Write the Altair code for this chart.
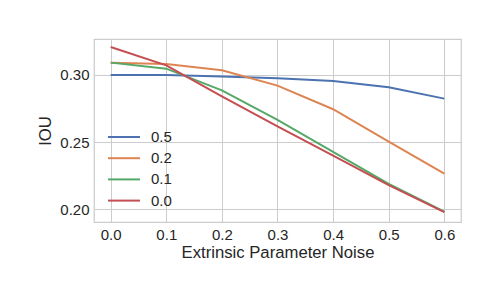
import altair as alt
import pandas as pd

noise = [0.0, 0.1, 0.2, 0.3, 0.4, 0.5, 0.6]
series_names = ["0.5", "0.2", "0.1", "0.0"]
iou_05 = [0.3000, 0.3000, 0.2988, 0.2975, 0.2955, 0.2908, 0.2824]
iou_02 = [0.3092, 0.3082, 0.3035, 0.2921, 0.2745, 0.2504, 0.2266]
iou_01 = [0.3092, 0.3047, 0.2886, 0.2665, 0.2427, 0.2189, 0.1983]
iou_00 = [0.3208, 0.3072, 0.2841, 0.2618, 0.2400, 0.2179, 0.1978]
colors = ["#4c72b0", "#dd8452", "#55a868", "#c44e52"]
x_ticks = [0.0, 0.1, 0.2, 0.3, 0.4, 0.5, 0.6]
y_ticks = [0.20, 0.25, 0.30]

rows = []
for i, (name, vals) in enumerate(zip(series_names, [iou_05, iou_02, iou_01, iou_00])):
    for x, v in zip(noise, vals):
        rows.append({"noise": x, "iou": v, "series": name, "ord": i})
df = pd.DataFrame(rows)

font = "Liberation Sans"
text_color = "#262626"

chart = alt.Chart(df).mark_line(strokeWidth=2).encode(
    x=alt.X("noise:Q",
            scale=alt.Scale(domain=[-0.03, 0.63], nice=False, zero=False),
            axis=alt.Axis(values=x_ticks, format=".1f", title="Extrinsic Parameter Noise",
                          titleY=35, titleBaseline="alphabetic")),
    y=alt.Y("iou:Q",
            scale=alt.Scale(domain=[0.1905, 0.3268], nice=False, zero=False),
            axis=alt.Axis(values=y_ticks, format=".2f", title="IOU",
                          titleX=-49, titleY=91.5, titleAngle=270,
                          titleBaseline="middle", titleAlign="center")),
    color=alt.Color("series:N",
                    scale=alt.Scale(domain=series_names, range=colors),
                    legend=alt.Legend(title=None, orient="none", legendX=13, legendY=89,
                                      symbolType="M-1,0H3", symbolSize=256,
                                      symbolStrokeWidth=2, labelOffset=26,
                                      rowPadding=4.2, padding=0,
                                      labelFont=font, labelFontSize=15,
                                      labelColor=text_color)),
    order=alt.Order("ord:Q"),
    detail="series:N",
).properties(
    width=367, height=183,
    padding={"left": 86, "top": 31, "right": 31, "bottom": 70},
    autosize=alt.AutoSizeParams(type="none"),
).configure_view(
    stroke="#cccccc", strokeWidth=1.25
).configure_axis(
    domain=False, ticks=False, tickSize=0,
    grid=True, gridColor="#cccccc", gridWidth=1,
    labelFont=font, labelFontSize=15, labelColor=text_color, labelPadding=5,
    titleFont=font, titleFontSize=16.7, titleColor=text_color, titleFontWeight="normal",
)

chart.save("out.html", embed_options={"renderer": "svg", "actions": False})
